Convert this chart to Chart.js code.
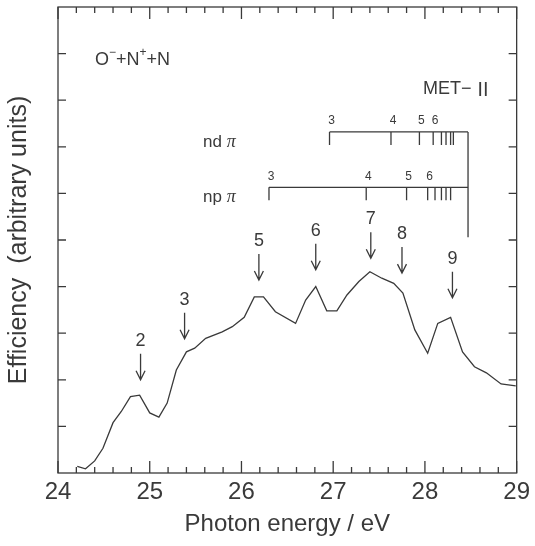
<!DOCTYPE html>
<html>
<head>
<meta charset="utf-8">
<script src="https://cdn.jsdelivr.net/npm/chart.js@4.4.0/dist/chart.umd.min.js"></script>
<style>
  html, body { margin: 0; padding: 0; background: #fff; }
  #wrap { width: 535px; height: 546px; }
</style>
</head>
<body>
<div id="wrap"><canvas id="canvas1" width="535" height="546"></canvas></div>
<script>
// measured curve (photon energy in eV, efficiency in arbitrary units)
const energy = [24.21, 24.30, 24.40, 24.49, 24.60, 24.69, 24.79, 24.89, 25.00, 25.10, 25.19, 25.29, 25.40, 25.49, 25.61, 25.79, 25.90, 26.03, 26.14, 26.24, 26.37, 26.59, 26.70, 26.81, 26.93, 27.04, 27.15, 27.28, 27.40, 27.53, 27.66, 27.76, 27.89, 28.03, 28.14, 28.28, 28.41, 28.54, 28.67, 28.83, 28.99];
const efficiency = [0.14, 0.09, 0.26, 0.53, 1.08, 1.32, 1.64, 1.67, 1.29, 1.20, 1.50, 2.21, 2.60, 2.68, 2.89, 3.03, 3.14, 3.34, 3.78, 3.78, 3.46, 3.21, 3.71, 4.00, 3.48, 3.48, 3.82, 4.11, 4.32, 4.18, 4.07, 3.86, 3.07, 2.57, 3.21, 3.34, 2.60, 2.28, 2.15, 1.91, 1.87];

// peak markers (arrows)
const arrowLabels = ["2", "3", "5", "6", "7", "8", "9"];
const arrowEnergy = [24.90, 25.38, 26.19, 26.81, 27.41, 27.75, 28.30];
const arrowTip = [2.00, 2.88, 4.14, 4.36, 4.61, 4.29, 3.76];

// Rydberg series converging to the limit
const seriesLimit = 28.47;
const ndPiLabels = ["3", "4", "5", "6", "", "", "", ""];
const ndPiEnergy = [26.96, 27.63, 27.94, 28.09, 28.18, 28.23, 28.28, 28.31];
const ndPiLevel = 7.32;
const npPiLabels = ["3", "4", "5", "6", "", "", "", ""];
const npPiEnergy = [26.30, 27.36, 27.80, 28.03, 28.11, 28.18, 28.23, 28.28];
const npPiLevel = 6.13;
const limitBottom = 5.06;

// axes
const xMin = 24, xMax = 29, xMinorStep = 0.2;
const yMin = 0, yMax = 10;

const INK = "#3a3a3a";
const SANS = "'Liberation Sans', Arial, sans-serif";

const points = energy.map((e, i) => ({ x: e, y: efficiency[i] }));

function drawText(ctx, txt, x, y, font, align) {
  ctx.font = font;
  ctx.textAlign = align || "center";
  ctx.textBaseline = "middle";
  ctx.fillText(txt, x, y);
}

const decorations = {
  id: "decorations",
  afterDatasetsDraw(chart) {
    const ctx = chart.ctx;
    const xs = chart.scales.x, ys = chart.scales.y;
    const a = chart.chartArea;
    ctx.save();
    ctx.strokeStyle = INK;
    ctx.fillStyle = INK;
    ctx.lineWidth = 1.3;

    // frame
    ctx.strokeRect(a.left, a.top, a.right - a.left, a.bottom - a.top);

    // inward ticks on x (bottom and top)
    ctx.beginPath();
    for (let v = xMin; v <= xMax + 1e-6; v += xMinorStep) {
      const px = xs.getPixelForValue(v);
      const major = Math.abs(v - Math.round(v)) < 1e-6;
      const len = major ? 12 : 6;
      ctx.moveTo(px, a.bottom); ctx.lineTo(px, a.bottom - len);
      ctx.moveTo(px, a.top); ctx.lineTo(px, a.top + len);
    }
    // inward ticks on y (left and right)
    for (let v = yMin + 1; v < yMax; v++) {
      const py = ys.getPixelForValue(v);
      ctx.moveTo(a.left, py); ctx.lineTo(a.left + 8, py);
      ctx.moveTo(a.right, py); ctx.lineTo(a.right - 8, py);
    }
    ctx.stroke();

    // arrows
    arrowEnergy.forEach((e, i) => {
      const px = xs.getPixelForValue(e);
      const tip = ys.getPixelForValue(arrowTip[i]);
      ctx.beginPath();
      ctx.moveTo(px, tip - 26); ctx.lineTo(px, tip);
      ctx.moveTo(px - 4.5, tip - 9); ctx.lineTo(px, tip); ctx.lineTo(px + 4.5, tip - 9);
      ctx.stroke();
      drawText(ctx, arrowLabels[i], px, tip - 39, "18px " + SANS);
    });

    // series brackets
    const lim = xs.getPixelForValue(seriesLimit);
    function bracket(en, labels, level) {
      const py = ys.getPixelForValue(level);
      ctx.beginPath();
      ctx.moveTo(xs.getPixelForValue(en[0]), py);
      ctx.lineTo(lim, py);
      en.forEach((e, i) => {
        const px = xs.getPixelForValue(e);
        ctx.moveTo(px, py); ctx.lineTo(px, py + 13);
        if (labels[i]) drawText(ctx, labels[i], px + 2, py - 11, "12px " + SANS);
      });
      ctx.stroke();
    }
    bracket(ndPiEnergy, ndPiLabels, ndPiLevel);
    bracket(npPiEnergy, npPiLabels, npPiLevel);
    ctx.beginPath();
    ctx.moveTo(lim, ys.getPixelForValue(ndPiLevel));
    ctx.lineTo(lim, ys.getPixelForValue(limitBottom));
    ctx.stroke();

    // series names
    function seriesName(s, level) {
      const py = ys.getPixelForValue(level) + 10;
      drawText(ctx, s, 203, py, "17px " + SANS, "left");
      const w = ctx.measureText(s + " ").width;
      drawText(ctx, "π", 203 + w, py, "italic 18px 'Liberation Serif', serif", "left");
    }
    seriesName("nd", ndPiLevel);
    seriesName("np", npPiLevel);

    // reaction label O- + N+ + N
    let x = 95;
    const yl = 60;
    const parts = [["O", 0], ["−", -7], ["+N", 0], ["+", -7], ["+N", 0]];
    parts.forEach(([t, dy]) => {
      const f = dy ? "12px " + SANS : "18px " + SANS;
      drawText(ctx, t, x, yl + dy, f, "left");
      x += ctx.measureText(t).width;
    });

    // MET-II
    drawText(ctx, "MET−", 423, 89, "18px " + SANS, "left");
    const mw = ctx.measureText("MET−").width;
    drawText(ctx, "Ⅱ", 425 + mw, 89, "19px 'Noto Sans CJK JP', serif", "left");

    ctx.restore();
  }
};

const canvas1 = document.getElementById("canvas1");
new Chart(canvas1, {
  type: "scatter",
  data: {
    datasets: [{
      data: points,
      showLine: true,
      borderColor: INK,
      borderWidth: 1.3,
      pointRadius: 0,
      tension: 0
    }]
  },
  options: {
    responsive: false,
    animation: false,
    layout: { padding: { top: 7, right: 16, left: 0, bottom: 0 } },
    plugins: { legend: { display: false }, tooltip: { enabled: false } },
    scales: {
      x: {
        type: "linear",
        min: xMin, max: xMax,
        grid: { display: false, drawTicks: false },
        border: { display: false },
        ticks: { stepSize: 1, color: INK, font: { size: 24, family: "Liberation Sans" }, padding: 5 },
        title: { display: true, text: "Photon energy / eV", color: INK, font: { size: 24, family: "Liberation Sans" }, padding: { top: 0, bottom: 7 } },
        afterFit(scale) { scale.height = 73; }
      },
      y: {
        min: yMin, max: yMax,
        grid: { display: false, drawTicks: false },
        border: { display: false },
        ticks: { display: false },
        title: { display: true, text: "Efficiency  (arbitrary units)", color: INK, font: { size: 25, family: "Liberation Sans" }, padding: { top: 4, bottom: 0 } },
        afterFit(scale) { scale.width = 58; }
      }
    }
  },
  plugins: [decorations]
});
</script>
</body>
</html>
